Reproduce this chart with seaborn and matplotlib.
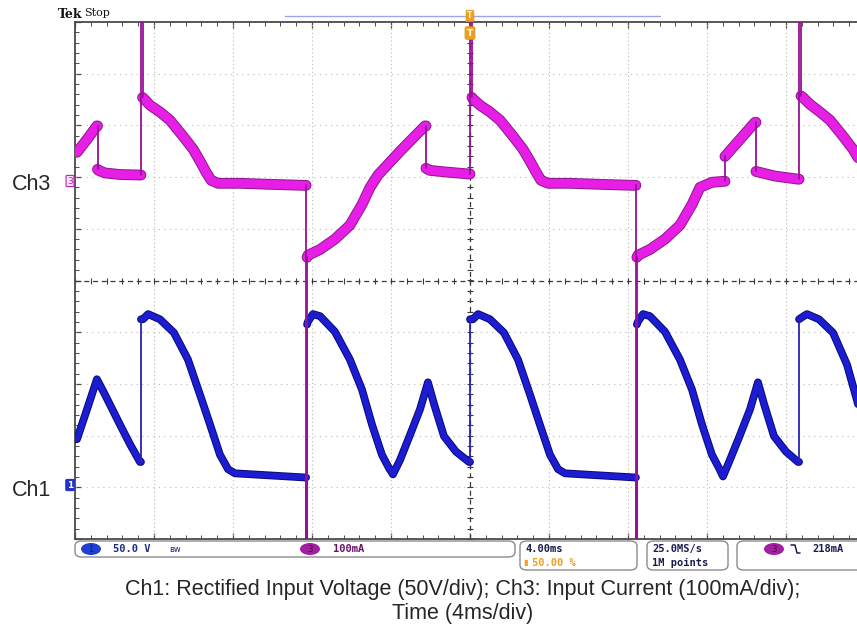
import numpy as np
import pandas as pd
import matplotlib
matplotlib.use("Agg")
import matplotlib.pyplot as plt
from matplotlib.patches import FancyBboxPatch, Ellipse
import seaborn as sns

# ---------------- data ----------------
# Ch3: input current, mA ; time in ms (0 = trigger, centre of screen)
# equal consecutive times mark a vertical transition of the trace
ch3_t = [-19.90, -19.39, -18.89,
         -18.86, -18.86, -18.81, -18.48, -17.72, -16.71,
         -16.66, -16.66, -16.58, -16.58,
         -16.50, -16.20, -15.70, -15.19, -14.53, -14.02, -13.67, -13.37, -13.11, -12.76,
         -11.64, -10.13, -8.35,
         -8.30, -8.30, -8.25, -8.25,
         -8.20, -7.59, -6.84, -6.08, -5.47, -5.06, -4.86, -4.66, -3.54, -2.28,
         -2.23, -2.23, -2.03, -1.27, -0.05,
         0.00, 0.00, 0.10, 0.10,
         0.15, 0.51, 1.01, 1.52, 2.18, 2.68, 3.04, 3.34, 3.59, 3.95,
         5.06, 6.58, 8.35,
         8.40, 8.40, 8.45, 8.45,
         8.51, 9.11, 9.87, 10.63, 11.24, 11.64, 12.25, 12.91,
         12.91, 13.67, 14.43,
         14.48, 14.48, 14.68, 15.44, 16.61,
         16.66, 16.66, 16.76, 16.76,
         16.86, 17.21, 17.72, 18.23, 18.89, 19.39, 19.75]
ch3_i = [54, 79, 105,
         105, 21, 19, 14, 11, 10,
         10, 400, 400, 160,
         157, 145, 132, 116, 85, 60, 37, 16, 0, -6,
         -6, -8, -10,
         -10, -760, -760, -149,
         -145, -134, -114, -87, -47, -14, -2, 10, 56, 105,
         105, 23, 19, 16, 12,
         12, 400, 400, 160,
         157, 145, 132, 116, 85, 60, 37, 16, 0, -6,
         -6, -8, -10,
         -10, -760, -760, -149,
         -145, -134, -114, -87, -47, -14, -4, -2,
         46, 79, 112,
         112, 17, 15, 8, 2,
         2, 400, 400, 163,
         160, 147, 132, 116, 85, 60, 37]

# Ch1: rectified input voltage, V
ch1_t = [-19.90, -19.39, -18.89, -18.48, -17.72, -17.21, -16.71,
         -16.66, -16.66,
         -16.56, -16.30, -15.70, -14.99, -14.28, -13.67, -13.16, -12.66, -12.25, -11.90,
         -10.13, -8.35,
         -8.30, -8.30, -8.25, -8.25,
         -8.20, -7.95, -7.59, -6.84, -6.08, -5.47, -4.96, -4.46, -4.10, -3.90,
         -3.54, -3.04, -2.53, -2.13, -1.82, -1.32, -0.71, -0.05,
         0.00, 0.00,
         0.15, 0.41, 1.01, 1.72, 2.43, 3.04, 3.54, 4.05, 4.46, 4.81, 6.58, 8.35,
         8.40, 8.40, 8.45, 8.45,
         8.51, 8.76, 9.11, 9.87, 10.63, 11.24, 11.75, 12.25, 12.61, 12.81,
         13.16, 13.67, 14.18, 14.58, 14.89, 15.39, 16.00, 16.61,
         16.66, 16.66,
         16.81, 17.06, 17.67, 18.38, 19.09, 19.59, 19.85]
ch1_v = [44, 73, 102, 87, 58, 39, 22,
         22, 160,
         160, 165, 160, 147, 121, 87, 58, 29, 15, 11,
         9, 7,
         7, -60, -60, 155,
         158, 165, 163, 148, 121, 92, 58, 29, 16, 10,
         24, 48, 73, 99, 78, 47, 32, 22,
         22, 160,
         160, 165, 160, 147, 121, 87, 58, 29, 15, 11, 9, 7,
         7, -60, -60, 155,
         158, 165, 163, 148, 121, 92, 58, 29, 16, 8,
         24, 48, 73, 99, 78, 47, 32, 22,
         22, 160,
         162, 165, 160, 147, 116, 82, 63]

# scope settings (graticule units)
ch1_scale, ch1_offset = 50.0, -3.95     # V/div, divisions
ch3_scale, ch3_offset = 100.0, 1.94     # mA/div, divisions
t_scale = 4.0                           # ms/div

caption1 = "Ch1: Rectified Input Voltage (50V/div); Ch3: Input Current (100mA/div);"
caption2 = "Time (4ms/div)"

# ---------------- figure ----------------
sns.set_theme(style="white")
plt.rcParams['font.family'] = ['DejaVu Sans']
W, H = 857, 627
fig = plt.figure(figsize=(W / 100, H / 100), dpi=100)
fig.patch.set_facecolor("white")


def fx(x):
    return x / W


def fy(y):
    return 1 - y / H


L, R, T, B = 75, 865, 22, 539
ax = fig.add_axes([fx(L), fy(B), (R - L) / W, (B - T) / H])
ax.set_xlim(-5, 5)
ax.set_ylim(-5, 5)
ax.set_facecolor("white")

# graticule
for k in range(-4, 5):
    if k == 0:
        continue
    ax.axvline(k, color="#b9b9b9", lw=0.8, ls=(0, (1, 2.5)), zorder=1)
    ax.axhline(k, color="#b9b9b9", lw=0.8, ls=(0, (1, 4)), zorder=1)
ax.axhline(0, color="#3a3a3a", lw=0.9, ls=(0, (4, 3)), zorder=1)
ax.axvline(0, color="#3a3a3a", lw=0.9, ls=(0, (4, 3)), zorder=1)
mt = np.arange(-5, 5.01, 0.2)
ax.plot(mt, np.zeros_like(mt), ls="none", marker="|", ms=4, mew=0.8, color="#3a3a3a", zorder=1)
ax.plot(np.zeros_like(mt), mt, ls="none", marker="_", ms=4, mew=0.8, color="#3a3a3a", zorder=1)

for s in ["left", "top", "bottom"]:
    ax.spines[s].set_color("#4a4a4a")
    ax.spines[s].set_linewidth(1.3)
ax.spines["right"].set_visible(False)
ax.set_xticks(np.arange(-5, 5.01, 1))
ax.set_yticks(np.arange(-5, 5.01, 1))
ax.set_xticks(mt, minor=True)
ax.set_yticks(mt, minor=True)
ax.tick_params(which="both", direction="in", top=True, bottom=True, left=True, right=False,
               labelbottom=False, labelleft=False, color="#4a4a4a")
ax.tick_params(which="major", length=4, width=0.9)
ax.tick_params(which="minor", length=3, width=0.7)


def band(df, color, edge, lw):
    sns.lineplot(data=df, x="x", y="y", sort=False, estimator=None, ax=ax,
                 color=edge, lw=lw + 1.4, zorder=4, solid_capstyle="round", solid_joinstyle="round")
    sns.lineplot(data=df, x="x", y="y", sort=False, estimator=None, ax=ax,
                 color=color, lw=lw, zorder=5, solid_capstyle="round", solid_joinstyle="round")


def draw_trace(t, v, scale, offset, color, edge, lw, jump_color):
    x = np.asarray(t) / t_scale
    y = np.asarray(v) / scale + offset
    seg = [0]
    for i in range(1, len(x)):
        if x[i] == x[i - 1]:
            df = pd.DataFrame({"x": x[i - 1:i + 1], "y": y[i - 1:i + 1]})
            sns.lineplot(data=df, x="x", y="y", sort=False, estimator=None, ax=ax,
                         color=jump_color, lw=1.3, zorder=6)
            if len(seg) > 1:
                band(pd.DataFrame({"x": x[seg], "y": y[seg]}), color, edge, lw)
            seg = [i]
        else:
            seg.append(i)
    if len(seg) > 1:
        band(pd.DataFrame({"x": x[seg], "y": y[seg]}), color, edge, lw)


draw_trace(ch1_t, ch1_v, ch1_scale, ch1_offset, "#1c1cd0", "#0a0a78", 4.2, "#2424b8")
draw_trace(ch3_t, ch3_i, ch3_scale, ch3_offset, "#e61ee6", "#8a1a8a", 6.4, "#9a109a")
ax.set_xlabel("")
ax.set_ylabel("")
ax.set_xlim(-5, 5)
ax.set_ylim(-5, 5)

# ---------------- annotations ----------------
fig.text(fx(58), fy(14), "Tek", family="DejaVu Serif", weight="bold", fontsize=9,
         va="center", ha="left", color="#111111")
fig.text(fx(84), fy(13), "Stop", family="DejaVu Serif", fontsize=8,
         va="center", ha="left", color="#111111")
fig.lines.append(plt.Line2D([fx(285), fx(660)], [fy(16), fy(16)], transform=fig.transFigure,
                            color="#9ea4e6", lw=1.0))
fig.text(fx(470), fy(16), "T", fontsize=5.5, weight="bold", color="#ffffff", ha="center", va="center",
         bbox=dict(boxstyle="round,pad=0.15", fc="#f0a020", ec="#e09010", lw=0.6))
fig.text(fx(470), fy(33), "T", fontsize=6.5, weight="bold", color="#ffffff", ha="center", va="center",
         bbox=dict(boxstyle="round,pad=0.2", fc="#f0a020", ec="#e09010", lw=0.6))

# channel markers
fig.text(fx(32), fy(184), "Ch3", family="Liberation Sans", fontsize=15.5, ha="center", va="center")
fig.text(fx(32), fy(490), "Ch1", family="Liberation Sans", fontsize=15.5, ha="center", va="center")
fig.text(fx(70), fy(181), "3", fontsize=6.5, color="#c020c0", ha="center", va="center",
         bbox=dict(boxstyle="round,pad=0.12", fc="#f6e6f6", ec="#c020c0", lw=0.8))
fig.text(fx(70), fy(485), "1", fontsize=6.5, color="#ffffff", ha="center", va="center", weight="bold",
         bbox=dict(boxstyle="round,pad=0.12", fc="#2233cc", ec="#2233cc", lw=0.8))


# status bar
def rbox(x0, y0, x1, y1):
    p = FancyBboxPatch((fx(x0), fy(y1)), fx(x1 - x0), (y1 - y0) / H,
                       boxstyle="round,pad=0,rounding_size=0.008", transform=fig.transFigure,
                       fc="white", ec="#8c8c8c", lw=1.0)
    fig.patches.append(p)


rbox(75, 541, 515, 557)
rbox(520, 541, 637, 570)
rbox(647, 541, 728, 570)
rbox(737, 541, 870, 570)

mono = "DejaVu Sans Mono"
fig.patches.append(Ellipse((fx(91), fy(549)), 20 / W, 12 / H, transform=fig.transFigure,
                           fc="#1f3fd0", ec="none"))
fig.text(fx(91), fy(549), "1", fontsize=6, color="#0a1a80", ha="center", va="center")
fig.text(fx(113), fy(549), "50.0 V", family=mono, fontsize=7.5, color="#1a2a8a", weight="bold",
         ha="left", va="center")
fig.text(fx(175), fy(549), "ʙw", family=["DejaVu Sans"], fontsize=6, color="#1a2a8a",
         ha="center", va="center")
fig.patches.append(Ellipse((fx(310), fy(549)), 20 / W, 12 / H, transform=fig.transFigure,
                           fc="#a020a0", ec="none"))
fig.text(fx(310), fy(549), "3", fontsize=6, color="#4a004a", ha="center", va="center")
fig.text(fx(333), fy(549), "100mA", family=mono, fontsize=7.5, color="#6a106a", weight="bold",
         ha="left", va="center")

fig.text(fx(525), fy(549), "4.00ms", family=mono, fontsize=7.5, color="#1a1a50", weight="bold",
         ha="left", va="center")
fig.text(fx(523), fy(563), "▮", fontsize=6, color="#f0a020", ha="left", va="center")
fig.text(fx(532), fy(563), "50.00 %", family=mono, fontsize=7.5, color="#f0a020", weight="bold",
         ha="left", va="center")
fig.text(fx(652), fy(549), "25.0MS/s", family=mono, fontsize=7.5, color="#1a1a50", weight="bold",
         ha="left", va="center")
fig.text(fx(652), fy(563), "1M points", family=mono, fontsize=7.5, color="#1a1a50", weight="bold",
         ha="left", va="center")
fig.patches.append(Ellipse((fx(774), fy(549)), 20 / W, 12 / H, transform=fig.transFigure,
                           fc="#a020a0", ec="none"))
fig.text(fx(774), fy(549), "3", fontsize=6, color="#4a004a", ha="center", va="center")
fig.lines.append(plt.Line2D([fx(791), fx(795), fx(797), fx(800)],
                            [fy(545), fy(545), fy(553), fy(553)],
                            transform=fig.transFigure, color="#1a1a50", lw=1.1))
fig.text(fx(812), fy(549), "218mA", family=mono, fontsize=7.5, color="#1a1a50", weight="bold",
         ha="left", va="center")

# caption
fig.text(fx(463), fy(590), caption1, family="Liberation Sans", fontsize=15.5, ha="center", va="center")
fig.text(fx(463), fy(613), caption2, family="Liberation Sans", fontsize=15.5, ha="center", va="center")

fig.savefig("out.png", dpi=100, facecolor="white")
